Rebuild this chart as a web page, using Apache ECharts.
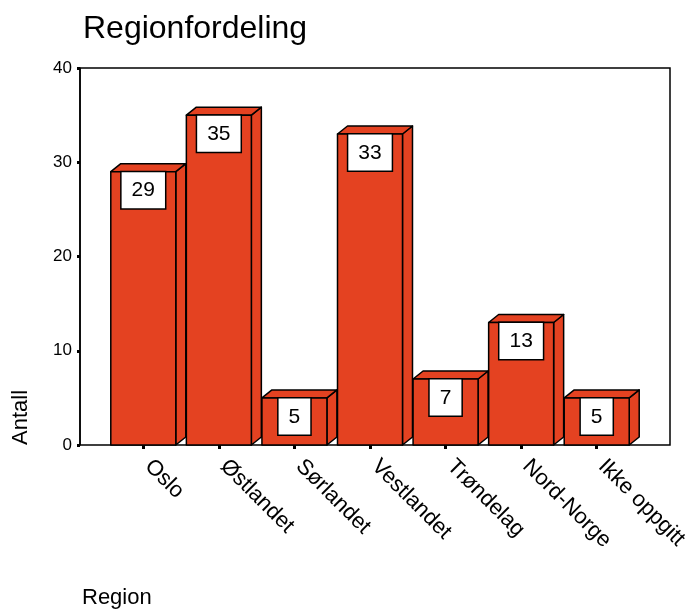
<!DOCTYPE html>
<html>
<head>
<meta charset="utf-8">
<script src="https://cdn.jsdelivr.net/npm/echarts@6/dist/echarts.min.js"></script>
<style>html,body{margin:0;padding:0;background:#fff}#c{width:696px;height:609px}</style>
</head>
<body>
<div id="c"></div>
<script>
const categories = ['Oslo', 'Østlandet', 'Sørlandet', 'Vestlandet', 'Trøndelag', 'Nord-Norge', 'Ikke oppgitt'];
const counts = [29, 35, 5, 33, 7, 13, 5];
const yTicks = [0, 10, 20, 30, 40];

const FONT = '"Liberation Sans", Arial, Helvetica, sans-serif';
const RED = '#E44221';
const DX = 10, DY = 8;

const chart = echarts.init(document.getElementById('c'), null, {renderer: 'canvas'});

function renderBar(params, api) {
  const i = api.value(0);
  const v = api.value(1);
  const top = api.coord([i, v]);
  const base = api.coord([i, 0]);
  const band = api.size([1, 0])[0];
  const w = band * 0.86;
  const x0 = top[0] - w / 2, x1 = top[0] + w / 2;
  const yt = top[1], yb = base[1];
  const st = {fill: RED, stroke: '#000', lineWidth: 1.5, lineJoin: 'round'};
  return {
    type: 'group',
    children: [
      {type: 'polygon', shape: {points: [[x1, yt], [x1 + DX, yt - DY], [x1 + DX, yb - DY], [x1, yb]]}, style: st},
      {type: 'polygon', shape: {points: [[x0, yt], [x0 + DX, yt - DY], [x1 + DX, yt - DY], [x1, yt]]}, style: st},
      {type: 'rect', shape: {x: x0, y: yt, width: x1 - x0, height: yb - yt}, style: st},
      {type: 'text', x: top[0], y: yt + 0.5, style: {
        text: String(v), fontSize: 21, fontFamily: FONT, fill: '#000',
        align: 'center', verticalAlign: 'top', lineHeight: 21,
        backgroundColor: '#fff', borderColor: '#000', borderWidth: 1.5,
        padding: [8, 10, 7, 10]
      }}
    ]
  };
}

const option = {
  backgroundColor: '#fff',
  animation: false,
  textStyle: {fontFamily: FONT},
  title: {
    text: 'Regionfordeling', left: 78, top: 8,
    textStyle: {fontSize: 32, fontWeight: 'normal', color: '#000', fontFamily: FONT}
  },
  grid: [
    {left: 80, top: 68, width: 590, height: 377, show: true, borderColor: '#000', borderWidth: 1.5, backgroundColor: 'transparent'},
    {left: 105.5, top: 68, width: 529, height: 377, show: false}
  ],
  xAxis: [
    {gridIndex: 0, type: 'value', min: 0, max: 1, show: false},
    {gridIndex: 1, type: 'category', data: categories, boundaryGap: true,
      axisLine: {show: false},
      axisTick: {show: true, alignWithLabel: true, length: 4, lineStyle: {color: '#000', width: 3}},
      axisLabel: {rotate: -45, fontSize: 22, color: '#000', margin: 13, fontFamily: FONT, interval: 0,
        padding: [0, 0, 0, 7]}
    }
  ],
  yAxis: [
    {gridIndex: 0, type: 'value', min: yTicks[0], max: yTicks[yTicks.length - 1], interval: 10,
      axisLine: {show: true, lineStyle: {color: '#000', width: 1.5}},
      axisTick: {show: true, length: 3, lineStyle: {color: '#000', width: 3}},
      splitLine: {show: false},
      axisLabel: {fontSize: 17, color: '#000', margin: 8, fontFamily: FONT}
    },
    {gridIndex: 1, type: 'value', min: yTicks[0], max: yTicks[yTicks.length - 1], show: false}
  ],
  series: [{
    type: 'custom', xAxisIndex: 1, yAxisIndex: 1,
    renderItem: renderBar,
    encode: {x: 0, y: 1},
    data: counts.map((v, i) => [i, v])
  }],
  graphic: [
    {type: 'text', x: 21, y: 445, rotation: Math.PI / 2,
      style: {text: 'Antall', fontSize: 22, fontFamily: FONT, fill: '#000', align: 'left', verticalAlign: 'middle'}},
    {type: 'text', x: 82, y: 598,
      style: {text: 'Region', fontSize: 22, fontFamily: FONT, fill: '#000', align: 'left', verticalAlign: 'middle'}}
  ]
};
chart.setOption(option);
</script>
</body>
</html>
